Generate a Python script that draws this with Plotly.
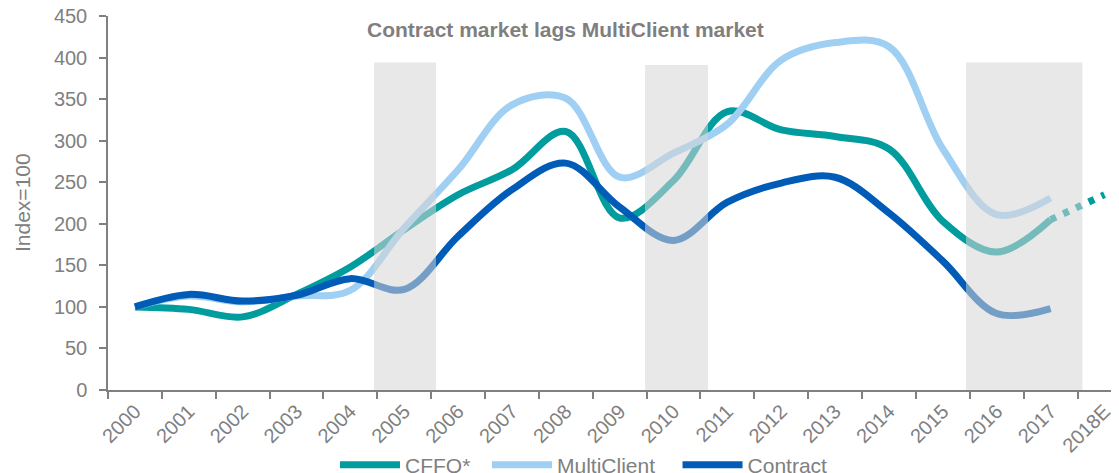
import plotly.graph_objects as go

years = ["2000", "2001", "2002", "2003", "2004", "2005", "2006", "2007", "2008",
         "2009", "2010", "2011", "2012", "2013", "2014", "2015", "2016", "2017"]
all_categories = years + ["2018E"]

cffo = [100, 97, 88, 115, 148, 193, 235, 265, 311, 207, 252, 335, 313, 305, 290, 203, 166, 205]
cffo_2018e = 235
multiclient = [100, 113, 106, 113, 120, 195, 265, 343, 351, 256, 285, 320, 397, 418, 413, 290, 211, 231]
contract = [100, 115, 107, 114, 134, 121, 185, 241, 273, 220, 180, 226, 249, 256, 213, 155, 92, 98]

# shaded periods (in category-index units) and their heights
band_start = [4.44, 9.47, 15.43]
band_end = [5.59, 10.64, 17.59]
band_top = [394, 391, 394]

TEAL = "#009C9E"
LIGHT = "#9FCFF2"
DARK = "#005CB6"
GRAY = "#808080"
FONT = "Arial, Liberation Sans, sans-serif"
NB = "\u00a0"

# the page body has an 8px margin, so the figure is 8px smaller than the window
OFF = 8
W, H = 1119 - OFF, 473 - OFF
L, R, T, B = 108 - OFF, 0, 16 - OFF, 83

fig = go.Figure()
for name, vals, color in [("CFFO*" + NB * 2, cffo, TEAL), ("MultiClient" + NB * 3, multiclient, LIGHT),
                          ("Contract", contract, DARK)]:
    fig.add_trace(go.Scatter(x=years, y=vals, mode="lines", name=name,
                             line=dict(color=color, width=7, shape="spline", smoothing=1)))

fig.add_trace(go.Scatter(x=[years[-1], all_categories[-1]], y=[cffo[-1], cffo_2018e],
                         mode="lines", showlegend=False, hoverinfo="skip",
                         line=dict(color=TEAL, width=7, dash="6px,8px")))

for s, e, t in zip(band_start, band_end, band_top):
    fig.add_shape(type="rect", xref="x", yref="y", x0=s, x1=e, y0=0, y1=t,
                  fillcolor="rgba(214,214,214,0.55)", line=dict(width=0), layer="above")

PW, PH = W - L - R, H - T - B
fig.add_annotation(text="<b>Contract market lags MultiClient market</b>", xref="paper", yref="paper",
                   x=(565 - OFF - L) / PW, y=(H - B - (29 - OFF)) / PH, showarrow=False,
                   xanchor="center", yanchor="middle",
                   font=dict(family=FONT, size=21, color="#7F7F7F"))

fig.add_annotation(text="Index=100", xref="paper", yref="paper", textangle=-90,
                   x=(22 - OFF - L) / PW, y=0.5, showarrow=False, xanchor="center",
                   yanchor="middle", font=dict(family=FONT, size=21, color=GRAY))

fig.update_layout(
    width=W, height=H,
    margin=dict(l=L, r=R, t=T, b=B, autoexpand=False),
    paper_bgcolor="white", plot_bgcolor="white",
    font=dict(family=FONT, color=GRAY, size=20),
    showlegend=True,
    legend=dict(orientation="h", xref="container", yref="container",
                x=(335 - OFF) / W, xanchor="left", y=1 - (465 - OFF) / H, yanchor="middle",
                font=dict(family=FONT, size=21, color=GRAY), itemwidth=60,
                bgcolor="rgba(0,0,0,0)", traceorder="normal"),
    xaxis=dict(type="category", categoryorder="array", categoryarray=all_categories,
               range=[-0.5, 18.27], tickson="boundaries", ticks="outside", ticklen=7,
               tickcolor=GRAY, tickwidth=1.5, showline=True, linecolor=GRAY, linewidth=1.5,
               showgrid=False, zeroline=False, tickangle=-45, automargin=False,
               ticklabeloverflow="allow",
               tickfont=dict(family=FONT, size=20, color=GRAY)),
    yaxis=dict(range=[0, 450], dtick=50, ticks="outside", ticklen=7, tickcolor=GRAY,
               tickwidth=1.5, showline=True, linecolor=GRAY, linewidth=1.5, showgrid=False,
               zeroline=False, automargin=False, ticklabelstandoff=8,
               ticklabeloverflow="allow",
               tickfont=dict(family=FONT, size=20, color=GRAY)),
)

fig.write_html("out.html")
